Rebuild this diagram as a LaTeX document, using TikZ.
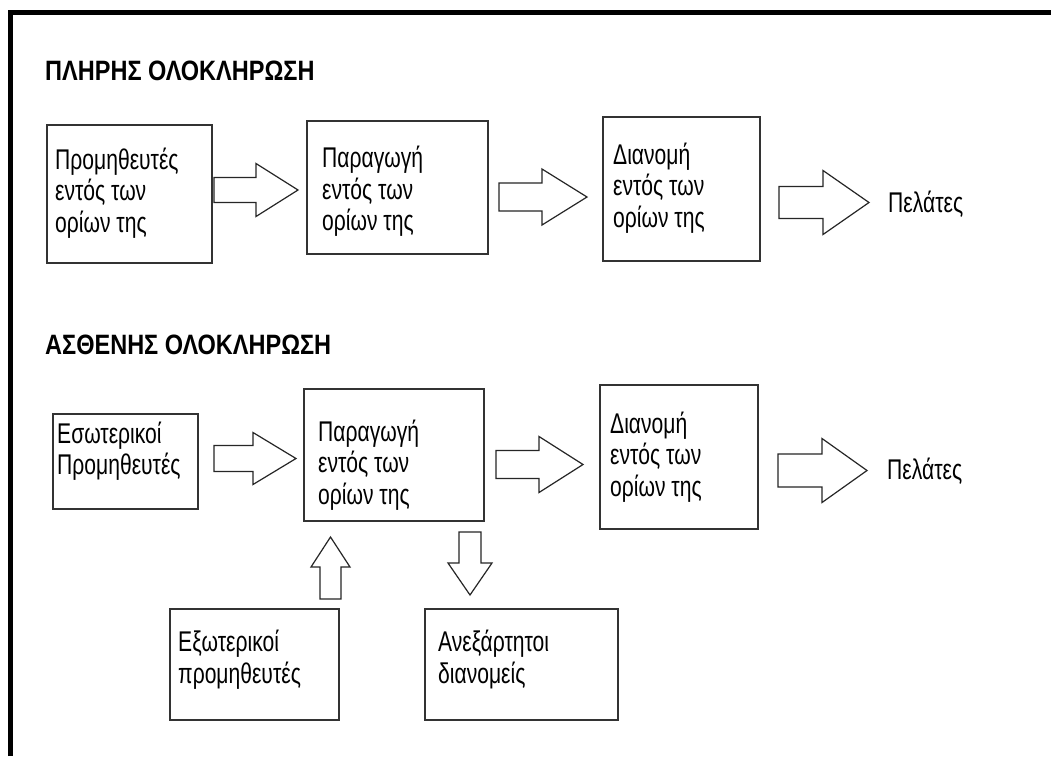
\documentclass[tikz,border=0pt]{standalone}
\usepackage{fontspec}
\setmainfont{Liberation Sans}[FakeStretch=0.74]
\newfontfamily\titlefont{Liberation Sans}[FakeStretch=0.84]
\newcommand{\RArr}[6]{% x0, yc, shaft len, head len, shaft half, head half
  \draw[blockarrow] (#1,#2-#5) -- (#1+#3,#2-#5) -- (#1+#3,#2-#6) -- (#1+#3+#4,#2)
    -- (#1+#3,#2+#6) -- (#1+#3,#2+#5) -- (#1,#2+#5) -- cycle;}
\newcommand{\VArr}[6]{% xc, y0, shaft len (signed), head len (signed), shaft half, head half
  \draw[blockarrow] (#1-#5,#2) -- (#1-#5,#2+#3) -- (#1-#6,#2+#3) -- (#1,#2+#3+#4)
    -- (#1+#6,#2+#3) -- (#1+#5,#2+#3) -- (#1+#5,#2) -- cycle;}
\begin{document}
\begin{tikzpicture}[x=1pt,y=-1pt,
  box/.style={draw=black!80, line width=1.6pt, inner sep=0pt, anchor=north west},
  lbl/.style={inner sep=0pt, anchor=base west, align=left,
    font=\fontsize{28.5}{31.5}\selectfont},
  ttl/.style={inner sep=0pt, anchor=base west,
    font=\titlefont\fontsize{28}{32}\selectfont\bfseries},
  blockarrow/.style={draw=black!85, line width=1.2pt, fill=white, line join=miter}]
\useasboundingbox (0,0) rectangle (1051,756);
\fill[white] (0,0) rectangle (1051,756);
% frame
\draw[line width=5pt, line join=miter] (10.5,756) -- (10.5,12) -- (1051,12);

% ---- top section (node base = baseline of the last line)
\node[ttl] (title1) at (45,80) {ΠΛΗΡΗΣ ΟΛΟΚΛΗΡΩΣΗ};
\node[box, minimum width=165pt, minimum height=138pt] (b1) at (46,124) {};
\node[lbl] (t1) at (55,232) {Προμηθευτές\\εντός των\\ορίων της};
\node[box, minimum width=181pt, minimum height=133pt] (b2) at (306,120) {};
\node[lbl] (t2) at (322,230.5) {Παραγωγή\\εντός των\\ορίων της};
\node[box, minimum width=157pt, minimum height=144pt] (b3) at (602,116) {};
\node[lbl] (t3) at (613,227) {Διανομή\\εντός των\\ορίων της};
\node[lbl] (c1) at (888,212) {Πελάτες};
\RArr{214}{190}{42}{42}{12.5}{26.5}
\RArr{499}{197}{43}{45}{14}{28}
\RArr{779}{202.5}{44}{46}{16}{32}

% ---- bottom section
\node[ttl] (title2) at (45,354) {ΑΣΘΕΝΗΣ ΟΛΟΚΛΗΡΩΣΗ};
\node[box, minimum width=145pt, minimum height=95pt] (b4) at (52,413) {};
\node[lbl] (t4) at (57,474.5) {Εσωτερικοί\\Προμηθευτές};
\node[box, minimum width=180pt, minimum height=132pt] (b5) at (303,388) {};
\node[lbl] (t5) at (318,504) {Παραγωγή\\εντός των\\ορίων της};
\node[box, minimum width=158pt, minimum height=144pt] (b8) at (599,384) {};
\node[lbl] (t8) at (610,496) {Διανομή\\εντός των\\ορίων της};
\node[lbl] (c2) at (887,479) {Πελάτες};
\node[box, minimum width=169pt, minimum height=111pt] (b6) at (169,608) {};
\node[lbl] (t6) at (178,683) {Εξωτερικοί\\προμηθευτές};
\node[box, minimum width=193pt, minimum height=111pt] (b7) at (424,608) {};
\node[lbl] (t7) at (438,683) {Ανεξάρτητοι\\διανομείς};
\RArr{214}{458.5}{39}{43}{13}{26}
\RArr{496}{464.5}{43}{44}{14}{28}
\RArr{778}{470.5}{44}{45}{16.5}{32}
\VArr{330.5}{599}{-32}{-30}{10.5}{19.5}
\VArr{470}{532}{31}{32}{11}{22}
\end{tikzpicture}
\end{document}
